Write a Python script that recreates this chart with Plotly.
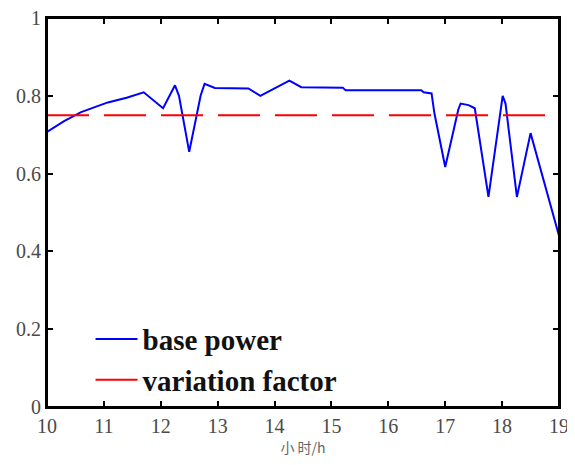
import plotly.graph_objects as go

# base power profile
hours = [10.0, 10.3, 10.6, 11.07, 11.4, 11.7, 12.04, 12.25, 12.32, 12.5, 12.7, 12.77,
         12.95, 13.54, 13.75, 14.26, 14.47, 15.2, 15.25, 16.58, 16.62, 16.76, 16.81,
         17.0, 17.23, 17.27, 17.41, 17.52, 17.76, 18.01, 18.06, 18.26, 18.5, 18.7, 19.0]
base_power = [0.707, 0.735, 0.758, 0.783, 0.795, 0.809, 0.768, 0.827, 0.80, 0.656, 0.80,
              0.831, 0.82, 0.819, 0.80, 0.839, 0.822, 0.821, 0.814, 0.814, 0.809, 0.806,
              0.755, 0.617, 0.765, 0.78, 0.776, 0.768, 0.54, 0.80, 0.78, 0.54, 0.704,
              0.60, 0.44]

factor_hours = [10, 19]
variation_factor = [0.75, 0.75]

x_ticks = [10, 11, 12, 13, 14, 15, 16, 17, 18, 19]
y_ticks = [0, 0.2, 0.4, 0.6, 0.8, 1]

fig = go.Figure()
fig.add_trace(go.Scatter(x=hours, y=base_power, mode="lines", name="base power",
                         line=dict(color="#0000ff", width=2)))
fig.add_trace(go.Scatter(x=factor_hours, y=variation_factor, mode="lines",
                         name="variation factor",
                         line=dict(color="#ff0000", width=2, dash="42px,15px")))

axis_common = dict(showline=True, linecolor="black", linewidth=2, mirror="allticks",
                   ticks="inside", ticklen=6, tickwidth=1.5, tickcolor="black",
                   showgrid=False, zeroline=False, automargin=False,
                   ticklabeloverflow="allow",
                   tickfont=dict(family="Liberation Serif", size=20, color="#4a4a4a"))

fig.update_xaxes(range=[10, 19], tickvals=x_ticks,
                 title=dict(text="小 时/h", standoff=6,
                            font=dict(family="Noto Sans CJK SC", size=14, color="#666666")),
                 **axis_common)
fig.update_yaxes(range=[0, 1], tickvals=y_ticks, ticktext=["0", "0.2", "0.4", "0.6", "0.8", "1"],
                 **axis_common)

# plot frame
fig.add_shape(type="rect", xref="paper", yref="paper", x0=0, y0=0, x1=1, y1=1,
              line=dict(color="black", width=2), layer="above")

# page body adds ~8px offset, so the figure is a bit smaller than the window
fig.update_layout(
    width=567, height=449,
    margin=dict(l=39, r=16, t=10, b=50),
    plot_bgcolor="white", paper_bgcolor="white",
    showlegend=True,
    legend=dict(x=0.085, y=0.24, xanchor="left", yanchor="top",
                bgcolor="rgba(0,0,0,0)", borderwidth=0, tracegroupgap=0,
                font=dict(family="Liberation Serif", size=29, color="#111111", weight="bold"),
                itemwidth=42),
)

fig.write_html("out.html")
